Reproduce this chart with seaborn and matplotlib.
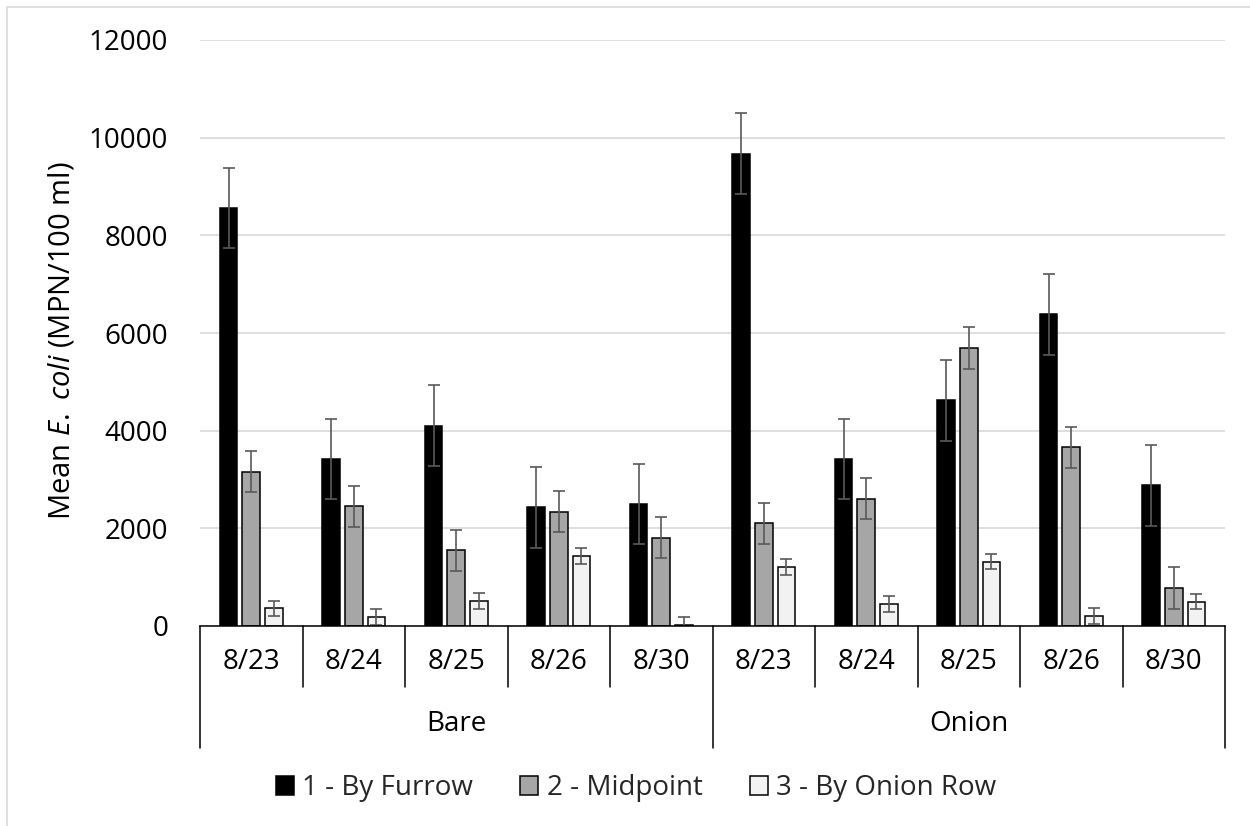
import matplotlib
matplotlib.use("Agg")
import matplotlib.pyplot as plt
import matplotlib.transforms as mtransforms
from matplotlib.patches import Patch, Rectangle
import pandas as pd
import seaborn as sns

# ---- data -------------------------------------------------------------
fields = ["Bare", "Onion"]
dates = ["8/23", "8/24", "8/25", "8/26", "8/30"]
positions = ["1 - By Furrow", "2 - Midpoint", "3 - By Onion Row"]

# mean E. coli (MPN/100 ml), Bare 8/23..8/30 then Onion 8/23..8/30
furrow_mean = [8560, 3420, 4100, 2430, 2500, 9670, 3420, 4620, 6380, 2880]
midpoint_mean = [3160, 2450, 1550, 2340, 1810, 2100, 2610, 5690, 3660, 780]
row_mean = [360, 185, 510, 1435, 20, 1205, 450, 1320, 200, 500]

# standard errors
furrow_se = [825, 825, 825, 825, 825, 825, 825, 825, 825, 825]
midpoint_se = [425, 425, 425, 425, 425, 425, 425, 425, 425, 425]
row_se = [160, 160, 160, 160, 160, 160, 160, 160, 160, 160]

y_ticks = [0, 2000, 4000, 6000, 8000, 10000, 12000]
colors = ["#000000", "#A6A6A6", "#F2F2F2"]

# ---- long table -------------------------------------------------------
cats = [f"{f} {d}" for f in fields for d in dates]
rows = []
for pos, vals in zip(positions, [furrow_mean, midpoint_mean, row_mean]):
    for c, v in zip(cats, vals):
        rows.append({"cat": c, "position": pos, "value": v})
df = pd.DataFrame(rows)

# ---- style ------------------------------------------------------------
sns.set_theme(style="white")
FONT = ["Open Sans", "DejaVu Sans"]
plt.rcParams["font.family"] = FONT
plt.rcParams["mathtext.fontset"] = "custom"
plt.rcParams["mathtext.rm"] = "Open Sans"
plt.rcParams["mathtext.it"] = "Open Sans:italic"

FS = 20
W, H = 1250, 826
fig = plt.figure(figsize=(W / 100, H / 100), dpi=100)
fig.patch.set_facecolor("white")

ax_left, ax_right, ax_top, ax_bottom = 200, 1225, 40, 626
ax = fig.add_axes([ax_left / W, 1 - ax_bottom / H,
                   (ax_right - ax_left) / W, (ax_bottom - ax_top) / H])

sns.barplot(data=df, x="cat", y="value", hue="position", order=cats,
            hue_order=positions, palette=colors, width=0.66, gap=0.22,
            edgecolor="black", linewidth=1.1, saturation=1, errorbar=None,
            legend=False, ax=ax, zorder=3)

# error bars on each bar
for container, errs in zip(ax.containers, [furrow_se, midpoint_se, row_se]):
    for bar, e in zip(container, errs):
        xc = bar.get_x() + bar.get_width() / 2
        ax.errorbar(xc, bar.get_height(), yerr=e, fmt="none",
                    ecolor="#595959", elinewidth=1.2, capsize=4.5,
                    capthick=1.2, zorder=4)

ax.set_xlim(-0.5, len(cats) - 0.5)
ax.set_ylim(0, 12000)
ax.set_yticks(y_ticks)
ax.set_yticklabels([str(t) for t in y_ticks], fontsize=FS, color="black")
ax.tick_params(axis="y", length=0, pad=23)
ax.tick_params(axis="x", length=0, labelbottom=False)
ax.set_xlabel("")
ax.set_ylabel("")
ax.grid(axis="y", color="#D9D9D9", linewidth=1.2, zorder=0)
ax.set_axisbelow(True)
for s in ["left", "right", "top"]:
    ax.spines[s].set_visible(False)
ax.spines["bottom"].set_color("black")
ax.spines["bottom"].set_linewidth(1.1)
ax.spines["bottom"].set_zorder(5)

# ---- two-level category axis ------------------------------------------
trans = mtransforms.blended_transform_factory(ax.transData, fig.transFigure)

def fy(px):
    return 1 - px / H

n = len(cats)
for k in range(n + 1):
    end = 748 if k % len(dates) == 0 else 687
    ax.plot([k - 0.5, k - 0.5], [fy(626), fy(end)], color="black",
            linewidth=1.1, transform=trans, clip_on=False)

for i, c in enumerate(cats):
    ax.text(i, fy(662), c.split(" ")[1], transform=trans, ha="center",
            va="center", fontsize=FS, color="black")

for j, f in enumerate(fields):
    center = j * len(dates) + (len(dates) - 1) / 2
    ax.text(center, fy(724), f, transform=trans, ha="center", va="center",
            fontsize=FS, color="black")

# ---- y label ----------------------------------------------------------
fig.text(62 / W, fy(341), r"Mean $\it{E.\ coli}$ (MPN/100 ml)", rotation=90,
         ha="center", va="center", fontsize=21, color="black")

# ---- legend -----------------------------------------------------------
handles = [Patch(facecolor=c, edgecolor="black", linewidth=1.1) for c in colors]
fig.legend(handles, positions, loc="center",
           bbox_to_anchor=(636 / W, fy(788)),
           ncol=3, frameon=False, fontsize=FS, handlelength=0.65,
           handleheight=0.65, handletextpad=0.3, columnspacing=1.7)

# chart-area border
fig.add_artist(Rectangle((7 / W, -0.1), 1.2, fy(7) + 0.1,
                         transform=fig.transFigure, fill=False,
                         edgecolor="#D9D9D9", linewidth=1.2))

fig.savefig("out.png", dpi=100, facecolor="white")
